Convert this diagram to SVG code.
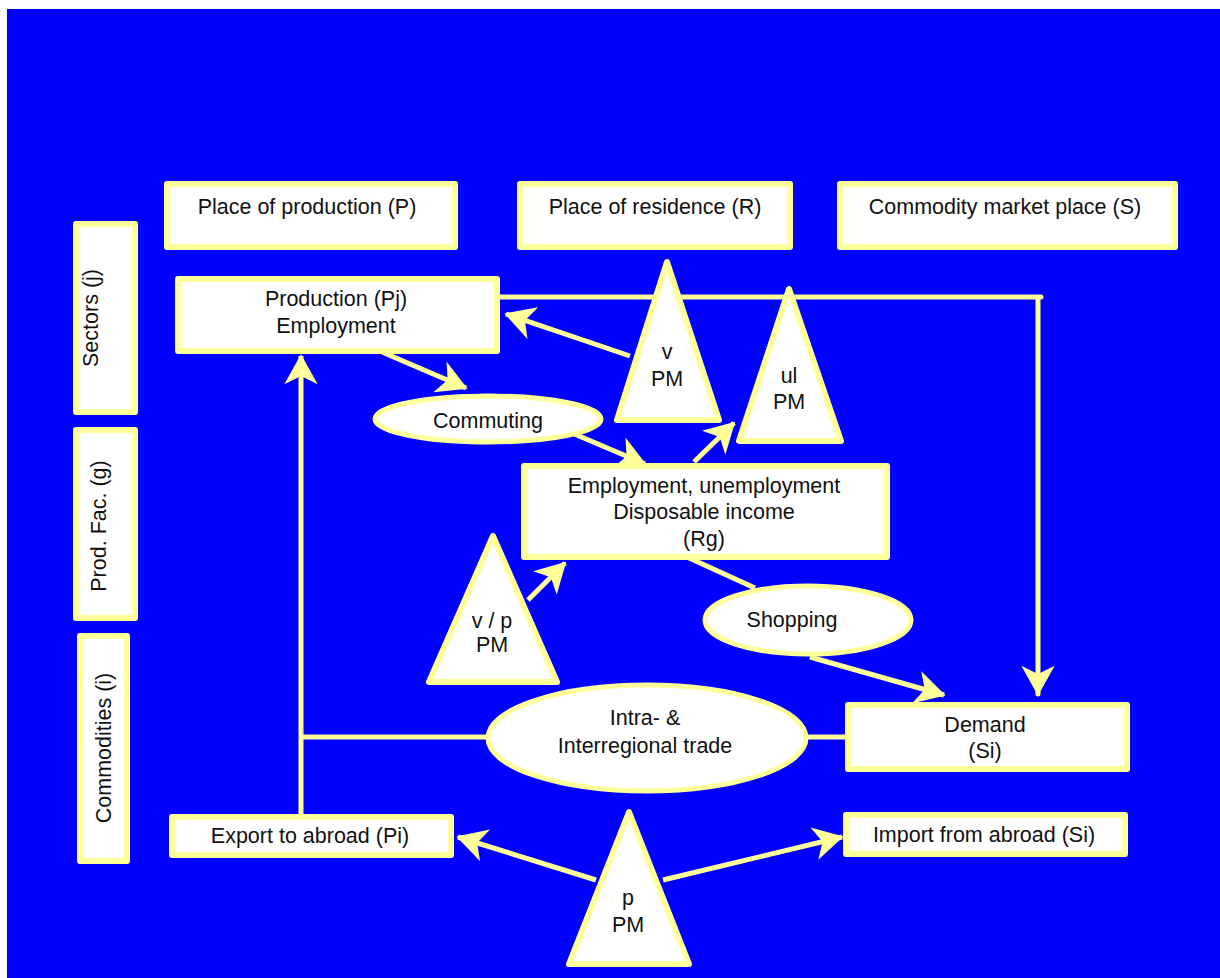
<svg xmlns="http://www.w3.org/2000/svg" width="1220" height="978" viewBox="0 0 1220 978">
<style>
.bg{fill:#0000FF}
.box{fill:#FFFFFF;stroke:#FFFF99;stroke-width:6;stroke-linejoin:round}
.ell{fill:#FFFFFF;stroke:#FFFF99;stroke-width:5}
.tri{fill:#FFFFFF;stroke:#FFFF99;stroke-width:6;stroke-linejoin:round}
.con{fill:none;stroke:#FFFF99;stroke-width:5}
.t{font-family:"Liberation Sans",Arial,sans-serif;font-size:21.5px;fill:#111111;text-anchor:middle}
</style>
<defs>
<marker id="ah" markerUnits="userSpaceOnUse" markerWidth="40" markerHeight="40" viewBox="-20 -12 24 24" refX="0" refY="0" orient="auto">
<path d="M1,0 L-17,-10 L-12,0 L-17,10 Z" fill="#FFFF99"/>
</marker>
</defs>
<rect class="bg" x="7" y="9" width="1213" height="969"/>
<g id="connectors">
<path class="con" d="M630,356 L506,314" marker-end="url(#ah)"/>
<path class="con" d="M382,352 L466,388" marker-end="url(#ah)"/>
<path class="con" d="M565,430 L645,464" marker-end="url(#ah)"/>
<path class="con" d="M694,462 L734,423" marker-end="url(#ah)"/>
<path class="con" d="M528,600 L565,563" marker-end="url(#ah)"/>
<path class="con" d="M676,552 L755,588"/>
<path class="con" d="M810,657 L944,695" marker-end="url(#ah)"/>
<path class="con" d="M500,297 H1041 M1038,297 V694" stroke-linecap="round" marker-end="url(#ah)"/>
<path class="con" d="M301,814 V356" marker-end="url(#ah)"/>
<path class="con" d="M301,737 H487"/>
<path class="con" d="M806,737 H847"/>
<path class="con" d="M596,880 L458,837" marker-end="url(#ah)"/>
<path class="con" d="M663,880 L842,837" marker-end="url(#ah)"/>
</g>
<g id="place-production"><rect class="box" x="167" y="184" width="288" height="63"/><text class="t" x="307" y="214">Place of production (P)</text></g>
<g id="place-residence"><rect class="box" x="520" y="184" width="270" height="63"/><text class="t" x="655" y="214">Place of residence (R)</text></g>
<g id="market-place"><rect class="box" x="840" y="184" width="335" height="63"/><text class="t" x="1005" y="214">Commodity market place (S)</text></g>
<g id="sectors"><rect class="box" x="76" y="224" width="59" height="188"/><text class="t" x="98" y="318" transform="rotate(-90 98 318)" dx="0" dy="0"><tspan x="98" y="318" dy="0">Sectors (j)</tspan></text></g>
<g id="prod-fac"><rect class="box" x="76" y="430" width="59" height="188"/><text class="t" transform="rotate(-90 98 526)" x="98" y="534">Prod. Fac. (g)</text></g>
<g id="commodities"><rect class="box" x="80" y="636" width="47" height="225"/><text class="t" transform="rotate(-90 103 748)" x="103" y="756">Commodities (i)</text></g>
<g id="production"><rect class="box" x="178" y="279" width="319" height="72"/><text class="t" x="336" y="306">Production (Pj)</text><text class="t" x="336" y="333">Employment</text></g>
<g id="v-pm"><polygon class="tri" points="667,262 617,420 719,420"/><text class="t" x="667" y="359">v</text><text class="t" x="667" y="386">PM</text></g>
<g id="ul-pm"><polygon class="tri" points="789,289 739,441 841,441"/><text class="t" x="789" y="383">ul</text><text class="t" x="789" y="409">PM</text></g>
<g id="commuting"><ellipse class="ell" cx="488" cy="419" rx="113" ry="23"/><text class="t" x="488" y="428">Commuting</text></g>
<g id="employment"><rect class="box" x="524" y="466" width="363" height="91"/><text class="t" x="704" y="493">Employment, unemployment</text><text class="t" x="704" y="519">Disposable income</text><text class="t" x="704" y="546">(Rg)</text></g>
<g id="vp-pm"><polygon class="tri" points="493,536 429,682 557,682"/><text class="t" x="492" y="628">v / p</text><text class="t" x="492" y="652">PM</text></g>
<g id="shopping"><ellipse class="ell" cx="808" cy="620" rx="103" ry="34"/><text class="t" x="792" y="627">Shopping</text></g>
<g id="trade"><ellipse class="ell" cx="647" cy="738" rx="159" ry="53"/><text class="t" x="645" y="725">Intra- &amp;</text><text class="t" x="645" y="753">Interregional trade</text></g>
<g id="demand"><rect class="box" x="848" y="705" width="279" height="64"/><text class="t" x="985" y="732">Demand</text><text class="t" x="985" y="758">(Si)</text></g>
<g id="export"><rect class="box" x="172" y="817" width="279" height="38"/><text class="t" x="310" y="843">Export to abroad (Pi)</text></g>
<g id="import"><rect class="box" x="846" y="815" width="279" height="39"/><text class="t" x="984" y="842">Import from abroad (Si)</text></g>
<g id="p-pm"><polygon class="tri" points="629,812 569,964 689,964"/><text class="t" x="628" y="905">p</text><text class="t" x="628" y="932">PM</text></g>
</svg>
